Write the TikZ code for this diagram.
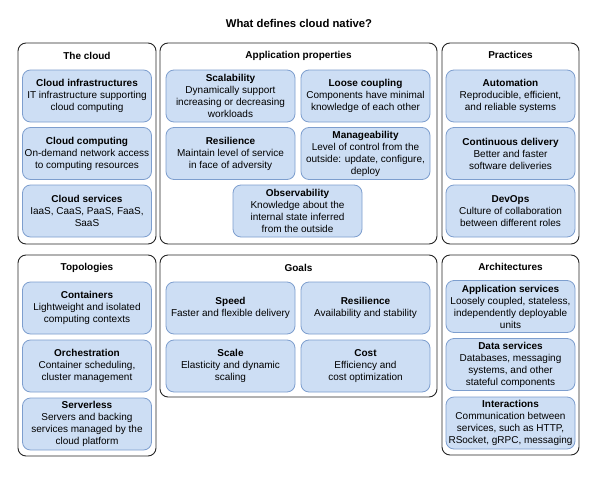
\documentclass[tikz,border=0pt]{standalone}
\usepackage{fontspec}
\setmainfont{Liberation Sans}
\definecolor{itemfill}{RGB}{205,222,244}
\definecolor{itemline}{RGB}{125,158,206}
\begin{document}
\begin{tikzpicture}[x=1pt,y=-1pt,line join=round,
	group/.style={draw=black!85,line width=0.9pt,rounded corners=8pt,fill=white},
	item/.style={draw=itemline,fill=itemfill,line width=0.8pt,rounded corners=8pt,minimum width=129pt,minimum height=52pt,inner sep=1pt,align=center,font=\fontsize{10}{12}\selectfont},
	head/.style={font=\fontsize{10}{12}\selectfont\bfseries}]
\useasboundingbox (0,0) rectangle (616,477);
\node[head,font=\fontsize{11.3}{13}\selectfont\bfseries] (title) at (299,23) {What defines cloud native?};
% upper row
\draw[group] (18,43) rectangle (156,244);
\draw[group] (160,43) rectangle (437,244);
\draw[group] (442,43) rectangle (579,244);
\node[head] (cloud) at (87,56) {The cloud};
\node[head] (props) at (298.5,56) {Application properties};
\node[head] (practices) at (510.5,55) {Practices};
\node[item] (cloudinfra) at (87,96) {\textbf{Cloud infrastructures}\\IT infrastructure supporting\\cloud computing};
\node[item] (cloudcomp) at (87,153.5) {\textbf{Cloud computing}\\On-demand network access\\to computing resources};
\node[item] (cloudserv) at (87,211) {\textbf{Cloud services}\\IaaS, CaaS, PaaS, FaaS,\\SaaS};
\node[item] (scal) at (230.5,96) {\textbf{Scalability}\\Dynamically support\\increasing or decreasing\\workloads};
\node[item] (loose) at (365.5,96) {\textbf{Loose coupling}\\Components have minimal\\knowledge of each other};
\node[item] (resil) at (230.5,153.5) {\textbf{Resilience}\\Maintain level of service\\in face of adversity};
\node[item] (manage) at (365.5,153.5) {\textbf{Manageability}\\Level of control from the\\outside: update, configure,\\deploy};
\node[item] (observ) at (297.5,211) {\textbf{Observability}\\Knowledge about the\\internal state inferred\\from the outside};
\node[item] (auto) at (510.5,96) {\textbf{Automation}\\Reproducible, efficient,\\and reliable systems};
\node[item] (delivery) at (510.5,153.5) {\textbf{Continuous delivery}\\Better and faster\\software deliveries};
\node[item] (devops) at (510.5,211) {\textbf{DevOps}\\Culture of collaboration\\between different roles};
% lower row
\draw[group] (18,255) rectangle (156,456);
\draw[group] (160,255) rectangle (437,397);
\draw[group] (442,255) rectangle (579,455);
\node[head] (topo) at (87,268) {Topologies};
\node[head] (goals) at (298.5,268) {Goals};
\node[head] (arch) at (510.5,267) {Architectures};
\node[item] (contain) at (87,308) {\textbf{Containers}\\Lightweight and isolated\\computing contexts};
\node[item] (orch) at (87,366) {\textbf{Orchestration}\\Container scheduling,\\cluster management};
\node[item] (serverless) at (87,424) {\textbf{Serverless}\\Servers and backing\\services managed by the\\cloud platform};
\node[item] (speed) at (230.5,308) {\textbf{Speed}\\Faster and flexible delivery};
\node[item] (goalresil) at (365.5,308) {\textbf{Resilience}\\Availability and stability};
\node[item] (scale) at (230.5,366) {\textbf{Scale}\\Elasticity and dynamic\\scaling};
\node[item] (cost) at (365.5,366) {\textbf{Cost}\\Efficiency and\\cost optimization};
\node[item] (appserv) at (510.5,306.5) {\textbf{Application services}\\Loosely coupled, stateless,\\independently deployable\\units};
\node[item] (dataserv) at (510.5,364.5) {\textbf{Data services}\\Databases, messaging\\systems, and other\\stateful components};
\node[item] (interact) at (510.5,423) {\textbf{Interactions}\\Communication between\\services, such as HTTP,\\RSocket, gRPC, messaging};
\end{tikzpicture}
\end{document}
